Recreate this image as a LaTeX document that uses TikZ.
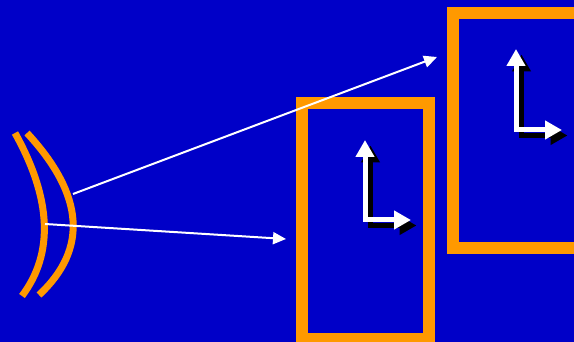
\documentclass[tikz,border=0pt]{standalone}
\usetikzlibrary{arrows.meta}
\definecolor{bgblue}{HTML}{0000C8}
\definecolor{lensorange}{HTML}{FF9900}
\tikzset{
  lens/.style={draw=lensorange, line width=7pt, line cap=butt},
  frame/.style={draw=lensorange, line width=12pt, line join=miter},
  ray/.style={draw=white, line width=2pt, -{Triangle[length=13pt,width=12pt]}},
  axiswhite/.style={draw=white, line width=5pt, line join=miter,
    {Triangle[length=17pt,width=18pt]}-{Triangle[length=17pt,width=18pt]}},
  axisshadow/.style={axiswhite, draw=black}
}
\begin{document}
\begin{tikzpicture}[x=1pt,y=-1pt]
\fill[bgblue] (0,0) rectangle (574,342);
\useasboundingbox (0,0) rectangle (574,342);
\begin{scope}
\clip (0,0) rectangle (574,342);
% lens
\draw[lens] (15,133) .. controls (51.7,199) and (54,253.3) .. (22,296);
\draw[lens] (27,133) .. controls (84.3,195) and (88.3,249) .. (39,295);
% frames
\draw[frame] (302,103) rectangle (429,339);
\draw[frame] (453,13) rectangle (620,248);
% axes 1
\draw[axisshadow] (370.5,145.5) -- (370.5,225.5) -- (416.5,225.5);
\draw[axiswhite] (365,140) -- (365,220) -- (411,220);
% axes 2
\draw[axisshadow] (521.5,54.5) -- (521.5,135.5) -- (567.5,135.5);
\draw[axiswhite] (516,49) -- (516,130) -- (562,130);
% rays
\coordinate (s1) at (73,194);
\coordinate (t1) at (437,57);
\coordinate (s2) at (45,224);
\coordinate (t2) at (286,239);
\draw[ray] (s1) -- (t1);
\draw[ray] (s2) -- (t2);
\end{scope}
\end{tikzpicture}
\end{document}
